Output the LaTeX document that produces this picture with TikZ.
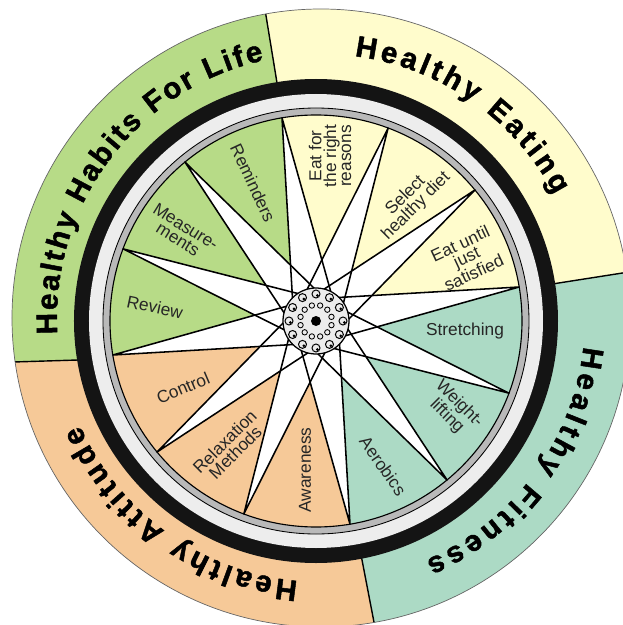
\documentclass[tikz,border=0pt]{standalone}
\usepackage{fontspec}
\setmainfont{Liberation Sans}
\newfontfamily\ringfamily[BoldFeatures={FakeBold=1.6}]{Liberation Sans}
\usepackage{tikz}
\usetikzlibrary{calc}
\usetikzlibrary{decorations.text}
\definecolor{eating}{RGB}{255,252,204}
\definecolor{habits}{RGB}{183,219,135}
\definecolor{attitude}{RGB}{246,201,152}
\definecolor{fitness}{RGB}{172,218,197}
\newcommand{\ringtext}{\ringfamily\fontsize{21pt}{21pt}\selectfont\bfseries}
\newcommand{\spoketext}{\fontsize{12.3pt}{10.6pt}\selectfont}

\begin{document}
\begin{tikzpicture}[x=0.025cm, y=0.025cm,
    spoke/.style={line width=1.1pt, line join=round},
    sectortext/.style={font=\spoketext, align=center, inner sep=0pt, text=black!85},
    ringpath/.style={decorate, decoration={text along path, text align={fit to path}, text={|\ringtext|#1}}}]
    \useasboundingbox (-316,-304) rectangle (307,321);
    \clip (-316,-304) rectangle (307,321);

    \begin{scope}
        \clip (5,3) circle (309);
        \fill [eating] (0,0) -- (99.3:500) -- (45:700) -- (8.9:500) -- cycle;
        \fill [fitness] (0,0) -- (8.9:500) -- (-35:700) -- (-79.1:500) -- cycle;
        \fill [attitude] (0,0) -- (-79.1:500) -- (-135:700) -- (-400,-44) -- (-238,-39) -- cycle;
        \fill [habits] (0,0) -- (-238,-39) -- (-400,-44) -- (-600,100) -- (135:700) -- (99.3:500) -- cycle;
        \draw [line width=1pt] (99.3:230) -- (99.3:400);
        \draw [line width=1pt] (8.9:230) -- (8.9:400);
        \draw [line width=1pt] (-79.1:230) -- (-79.1:400);
        \draw [line width=1pt] (-238,-39) -- (-400,-44);
    \end{scope}
    \draw [line width=0.5pt, black!60] (5,3) circle (309);

    \fill [black!92] (0,0) circle (242);
    \fill [gray!14] (0,0) circle (227);
    \filldraw [fill=gray!55, draw=black, line width=0.6pt] (0,0) circle (213);
    \fill [white] (0,0) circle (206);
    \foreach \a/\c in {9.5/eating, 99.5/habits, 189.5/attitude, 279.5/fitness}
        \fill [\c] (0,0) -- (\a:206) arc [start angle=\a, end angle=\a+90, radius=206] -- cycle;
    \draw [line width=0.8pt] (0,0) circle (206);

    \foreach \a in {9.5,39.5,...,339.5}
        \fill [white] (0,0) -- (\a-36:33) -- (\a:206) -- (\a+36:33) -- cycle;
    \foreach \a in {9.5,39.5,...,339.5}
        \draw [spoke] (\a-36:33) -- (\a:206) -- (\a+36:33);

    \filldraw [fill=gray!15, line width=0.9pt] (0,0) circle (33);
    \fill (0,0) circle (5);
    \foreach \a in {0,30,...,330} {
        \draw [line width=0.6pt] (\a+15:16) circle (2.7);
        \draw [line width=0.7pt] (\a:27) circle (4);
        \fill ($(\a:27)+(1.4,-1.4)$) circle (1.5);
    }

    \node [sectortext, rotate=90] (reasons) at (14,165) {Eat for\\the right\\reasons};
    \node [sectortext, rotate=45] (diet) at (95,120) {Select\\healthy diet};
    \node [sectortext, rotate=25] (satisfied) at (151,63) {Eat until\\just\\satisfied};
    \node [sectortext] (stretching) at (149,-10) {Stretching};
    \node [sectortext, rotate=-45] (weights) at (137,-89) {Weight-\\lifting};
    \node [sectortext, rotate=-55] (aerobics) at (67,-145) {Aerobics};
    \node [sectortext, rotate=90] (awareness) at (-11,-149) {Awareness};
    \node [sectortext, rotate=45] (relaxation) at (-86,-126) {Relaxation\\Methods};
    \node [sectortext, rotate=23] (control) at (-133,-67) {Control};
    \node [sectortext, rotate=-12] (review) at (-161,14) {Review};
    \node [sectortext, rotate=-32] (measurements) at (-134,88) {Measure-\\ments};
    \node [sectortext, rotate=-65] (reminders) at (-63,138) {Reminders};

    \begin{scope}[shift={(5,3)}]
        \path [ringpath={Healthy Eating}] (82.7:264) arc [start angle=82.7, end angle=27.8, radius=264];
        \path [ringpath={Healthy Habits For Life}] (183.5:264) arc [start angle=183.5, end angle=102.5, radius=264];
        \path [ringpath={Healthy Fitness}] (-6.2:264) arc [start angle=-6.2, end angle=-66.6, radius=264];
        \path [ringpath={Healthy Attitude}] (265:264) arc [start angle=265, end angle=204, radius=264];
    \end{scope}
\end{tikzpicture}
\end{document}
